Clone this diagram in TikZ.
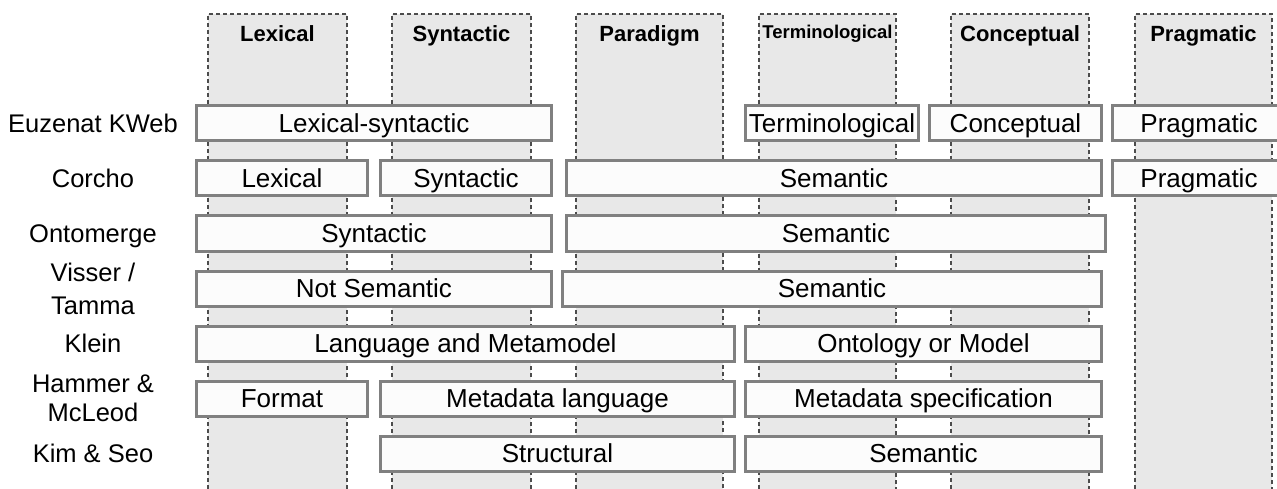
\documentclass[tikz,border=0pt]{standalone}
\usepackage{fontspec}
\setmainfont{Liberation Sans}
\usepackage{tikz}
\usetikzlibrary{positioning}

\begin{document}
\begin{tikzpicture}[x=1pt, y=-1pt, node distance={55pt},
  main/.style = {draw=black!50, line width=3pt, fill=black!1, inner sep=0pt, minimum height=35pt, text height=20.5pt, text depth=2.5pt, font=\fontsize{26}{28}\selectfont},
  rowname/.style = {align=center, text height=20.5pt, text depth=2.5pt, font=\fontsize{25.5}{28}\selectfont},
  tworow/.style = {align=center, font=\fontsize{25.5}{31}\selectfont},
  layer/.style = {fill=black!9, draw=black!70, line width=1.2pt, dash pattern=on 4pt off 3pt},
  head/.style = {anchor=base, font=\fontsize{22}{26}\selectfont\bfseries}]
\clip (0,0) rectangle (1277,489);
\draw[layer] (208,489) |- (347,14) -- (347,489);
\draw[layer] (392,489) |- (531,14) -- (531,489);
\draw[layer] (576,489) |- (723,14) -- (723,489);
\draw[layer] (759,489) |- (896,14) -- (896,489);
\draw[layer] (951,489) |- (1089,14) -- (1089,489);
\draw[layer] (1135,489) |- (1272,14) -- (1272,489);
\node[head] (hlex) at (277.5,42) {Lexical};
\node[head] (hsyn) at (461.5,42) {Syntactic};
\node[head] (hpar) at (649.5,42) {Paradigm};
\node[head, font=\fontsize{18.5}{20}\selectfont\bfseries] (hter) at (827.5,39) {Terminological};
\node[head] (hcon) at (1020,42) {Conceptual};
\node[head] (hpra) at (1203.5,42) {Pragmatic};
\node[rowname] (euzenat) at (93,123.5) {Euzenat KWeb};
\node[rowname] (corcho) [below of=euzenat] {Corcho};
\node[rowname] (ontomerge) [below of=corcho] {Ontomerge};
\node[tworow, font=\fontsize{25.5}{33}\selectfont] (visser) [below of=ontomerge] {Visser /\\Tamma};
\node[rowname] (klein) [below of=visser] {Klein};
\node[tworow, font=\fontsize{25.5}{29}\selectfont] (hammer) [below of=klein] {Hammer \&\\McLeod};
\node[rowname] (kim) [below of=hammer] {Kim \& Seo};
\node[main, minimum width=355pt] (lexsyn) at (374,0 |- euzenat) {Lexical-syntactic};
\node[main, minimum width=173pt] (termi) at (832,0 |- euzenat) {Terminological};
\node[main, minimum width=172pt] (concept) at (1015.5,0 |- euzenat) {Conceptual};
\node[main, minimum width=173pt] (pragma) at (1199,0 |- euzenat) {Pragmatic};
\node[main, minimum width=171pt] (clex) at (282,0 |- corcho) {Lexical};
\node[main, minimum width=171pt] (csyn) at (466,0 |- corcho) {Syntactic};
\node[main, minimum width=535pt] (csem) at (834,0 |- corcho) {Semantic};
\node[main, minimum width=173pt] (cpra) at (1199,0 |- corcho) {Pragmatic};
\node[main, minimum width=355pt] (osyn) at (374,0 |- ontomerge) {Syntactic};
\node[main, minimum width=539pt] (osem) at (836,0 |- ontomerge) {Semantic};
\node[main, minimum width=355pt] (vnot) at (374,0 |- visser) {Not Semantic};
\node[main, minimum width=539pt] (vsem) at (832,0 |- visser) {Semantic};
\node[main, minimum width=538pt] (klang) at (465.5,0 |- klein) {Language and Metamodel};
\node[main, minimum width=356pt] (konto) at (923.5,0 |- klein) {Ontology or Model};
\node[main, minimum width=171pt] (hfor) at (282,0 |- hammer) {Format};
\node[main, minimum width=354pt] (hlang) at (557.5,0 |- hammer) {Metadata language};
\node[main, minimum width=356pt] (hspec) at (923.5,0 |- hammer) {Metadata specification};
\node[main, minimum width=354pt] (kstr) at (557.5,0 |- kim) {Structural};
\node[main, minimum width=356pt] (ksem) at (923.5,0 |- kim) {Semantic};
\end{tikzpicture}
\end{document}
